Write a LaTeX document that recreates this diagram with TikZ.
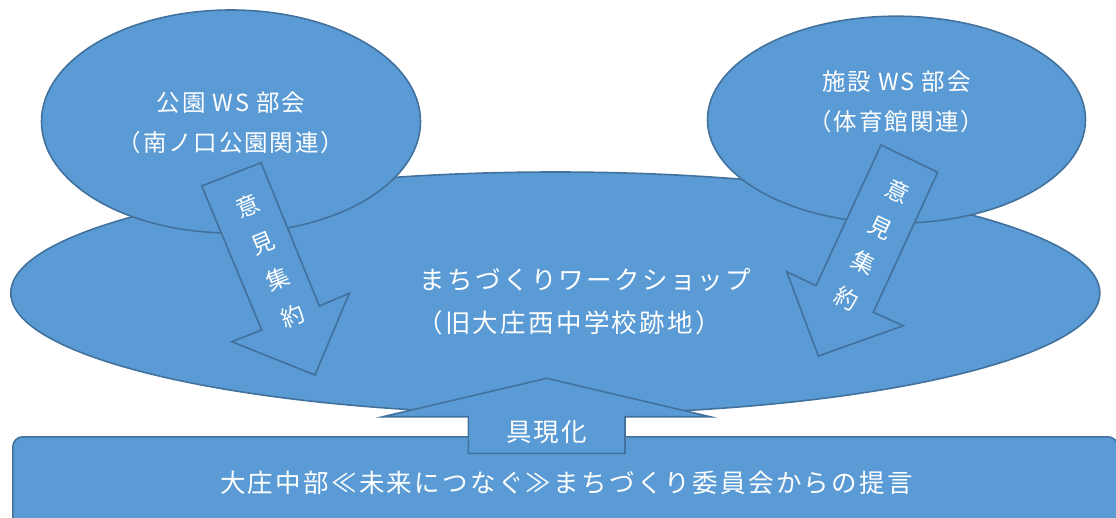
\documentclass[tikz,border=0pt]{standalone}
\usepackage{fontspec}
\setmainfont{Noto Sans CJK JP}
\usetikzlibrary{shapes.geometric}
\definecolor{fillblue}{HTML}{5B9BD5}
\definecolor{edgeblue}{HTML}{41719C}
\begin{document}
\begin{tikzpicture}[x=1pt,y=-1pt,
  shapefill/.style={fill=fillblue,draw=edgeblue,line width=1.6pt,line join=miter},
  oval/.style={shapefill,ellipse,inner sep=0pt},
  lbl/.style={text=white,align=center,inner sep=0pt},
  subtxt/.style={lbl,font=\fontsize{23.5}{40}\selectfont\addfontfeature{LetterSpace=8}},
  bigtxt/.style={lbl,font=\fontsize{25.5}{40}\selectfont\addfontfeature{LetterSpace=9}},
  vtxt/.style={lbl,font=\fontsize{23}{39.5}\selectfont}]
\useasboundingbox (0,0) rectangle (1116,517);
% main workshop ellipse
\node[oval,minimum width=1089pt,minimum height=242pt] (ws) at (555.3,293) {};
% sub-committee ellipses
\node[oval,minimum width=379pt,minimum height=223pt] (park) at (231,121.5) {};
\node[oval,minimum width=378pt,minimum height=207pt] (fac) at (896.5,119.7) {};
\node[subtxt] (parktxt) at (231,123) {公園 WS 部会\\（南ノ口公園関連）};
\node[subtxt] (factxt) at (896.5,101.7) {施設 WS 部会\\（体育館関連）};
% collecting arrows
\draw[shapefill] (201.7,186) -- (261,162.7) -- (319.3,306) -- (349.3,293.3)
  -- (315,375) -- (231.7,341.7) -- (261.7,330) -- cycle;
\draw[shapefill] (881,145) -- (937.7,172.3) -- (873.3,312.3) -- (903.3,325.7)
  -- (818.3,356) -- (786.7,271.7) -- (816,285.7) -- cycle;
\node[vtxt,rotate=22.4] (lcollect) at (270.5,261) {意\\見\\集\\約};
\node[vtxt,rotate=-25.5] (rcollect) at (872,245) {意\\見\\集\\約};
% workshop texts
\node[bigtxt] (wst1) at (585.5,280) {まちづくりワークショップ};
\node[bigtxt] (wst2) at (569,323) {（旧大庄西中学校跡地）};
% proposal box
\node[shapefill,rounded corners=10pt,minimum width=1105pt,minimum height=109pt,anchor=north west,inner sep=0pt] (prop) at (12,436) {};
\node[bigtxt] (proptxt) at (566.5,483) {大庄中部≪未来につなぐ≫まちづくり委員会からの提言};
% realisation arrow
\draw[shapefill] (546.7,378.3) -- (710,416.7) -- (625,416.7) -- (625,453.3)
  -- (468.3,453.3) -- (468.3,416.7) -- (383,416.7) -- cycle;
\node[bigtxt] (realise) at (546.7,432) {具現化};
\end{tikzpicture}
\end{document}
